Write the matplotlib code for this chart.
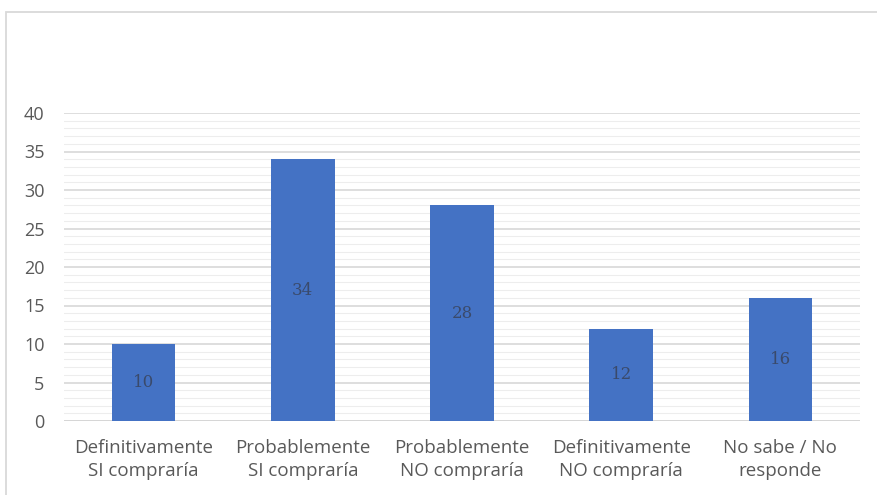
import matplotlib
matplotlib.use("Agg")
import matplotlib.pyplot as plt
from matplotlib.patches import Rectangle

categories = ["Definitivamente\nSI compraría", "Probablemente\nSI compraría",
              "Probablemente\nNO compraría", "Definitivamente\nNO compraría",
              "No sabe / No\nresponde"]
values = [10, 34, 28, 12, 16]
yticks = [0, 5, 10, 15, 20, 25, 30, 35, 40]

plt.rcParams['font.family'] = ['Open Sans', 'DejaVu Sans']

fig = plt.figure(figsize=(8.77, 4.95), dpi=100)
fig.patch.set_facecolor("white")

# chart frame
fig.patches.append(Rectangle((6 / 877, -0.05), 1.2, 1 - 12 / 495 + 0.05,
                             transform=fig.transFigure, fill=False,
                             edgecolor="#D9D9D9", linewidth=1.3, zorder=0))

ax = fig.add_axes([64 / 877, 1 - 421 / 495, (860 - 64) / 877, (421 - 113) / 495])
x = range(len(categories))
ax.bar(x, values, width=0.40, color="#4472C4", zorder=3)

for xi, v in zip(x, values):
    ax.text(xi, v / 2, str(v), ha="center", va="center", fontsize=12,
            color="#3A4A6B", zorder=4, family=["DejaVu Serif"])

ax.set_xlim(-0.5, len(categories) - 0.5)
ax.set_ylim(0, 40)
ax.set_yticks(yticks)
ax.set_yticks(range(0, 41), minor=True)
ax.set_xticks(list(x))
ax.set_xticklabels(categories, fontsize=13.5, color="#595959", linespacing=1.35)
ax.tick_params(axis="y", labelsize=13, labelcolor="#595959", length=0, pad=14, which="major")
ax.tick_params(axis="y", which="minor", length=0)
ax.tick_params(axis="x", length=0, pad=13)

ax.grid(axis="y", which="minor", color="#EDEDED", linewidth=0.8, zorder=0)
ax.grid(axis="y", which="major", color="#D4D4D4", linewidth=1.1, zorder=1)
for s in ax.spines.values():
    s.set_visible(False)
ax.axhline(0, color="#D4D4D4", linewidth=1.1, zorder=2)

fig.savefig("out.png", dpi=100)
